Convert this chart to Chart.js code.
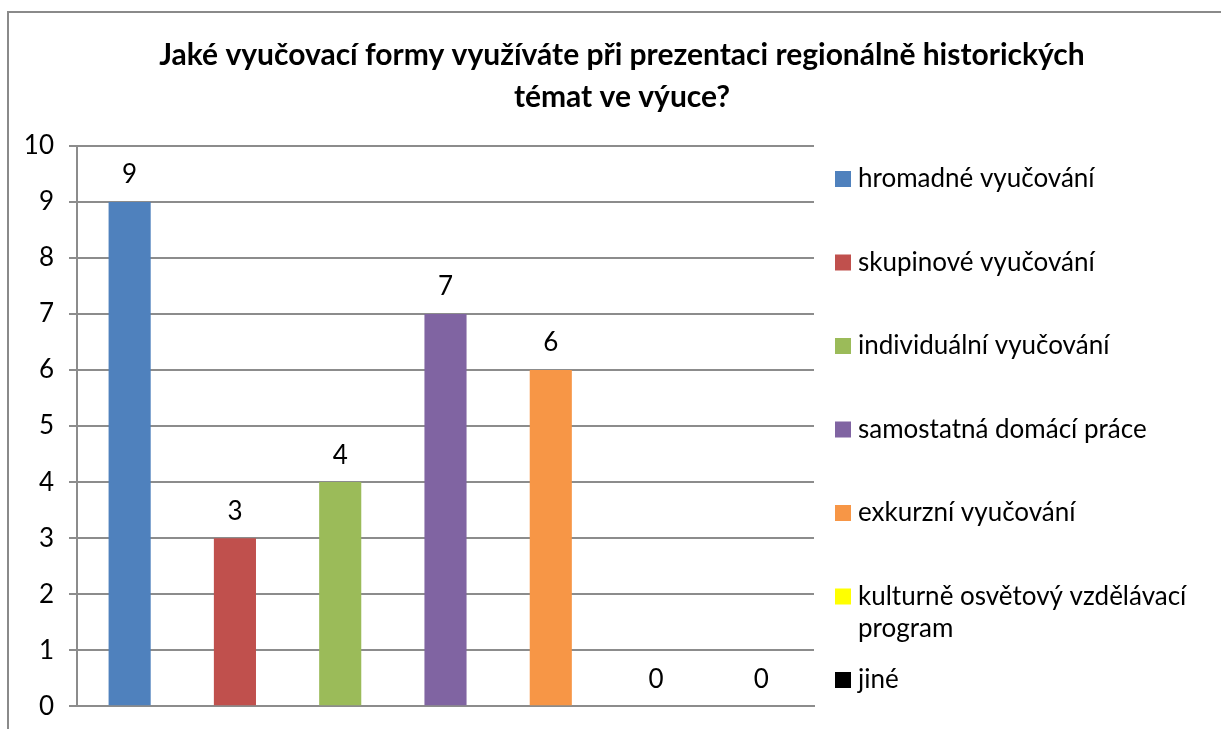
<!DOCTYPE html>
<html>
<head>
<meta charset="utf-8">
<script src="https://cdn.jsdelivr.net/npm/chart.js@4"></script>
<style>
    html, body { margin: 0; padding: 0; background: #fff; overflow: hidden; }
    .frame { position: absolute; left: 7px; top: 11px; width: 1300px; height: 800px; border: 2px solid #8a8a8a; }
    .box { position: absolute; left: 8px; top: 12px; width: 1228px; height: 717px; }
</style>
</head>
<body>
<div class="frame"></div>
<div class="box"><canvas id="formsChart" width="1228" height="717"></canvas></div>
<script>
    // Data
    const titleLines = ['Jaké vyučovací formy využíváte při prezentaci regionálně historických', 'témat ve výuce?'];
    const categories = [''];
    const seriesNames = [
        'hromadné vyučování',
        'skupinové vyučování',
        'individuální vyučování',
        'samostatná domácí práce',
        'exkurzní vyučování',
        'kulturně osvětový vzdělávací program',
        'jiné'
    ];
    const seriesValues = [9, 3, 4, 7, 6, 0, 0];
    const seriesColors = ['#4F81BD', '#C0504D', '#9BBB59', '#8064A2', '#F79646', '#FFFF00', '#000000'];
    const yMin = 0;
    const yMax = 10;
    const yStep = 1;

    const FONT = 'Lato, "Open Sans", sans-serif';
    const gridColor = '#8c8c8c';

    // value labels above each bar
    const valueLabels = {
        id: 'valueLabels',
        afterDatasetsDraw(chart) {
            const ctx = chart.ctx;
            ctx.save();
            ctx.font = '26px ' + FONT;
            ctx.fillStyle = '#000';
            ctx.textAlign = 'center';
            ctx.textBaseline = 'middle';
            chart.data.datasets.forEach((ds, i) => {
                chart.getDatasetMeta(i).data.forEach((bar, j) => {
                    ctx.fillText(String(ds.data[j]), bar.x, bar.y - 27);
                });
            });
            ctx.restore();
        }
    };

    // legend on the right, wrapping long names like the original
    function wrapText(ctx, text, maxWidth) {
        const words = text.split(' ');
        const lines = [];
        let line = '';
        words.forEach(w => {
            const test = line ? line + ' ' + w : w;
            if (line && ctx.measureText(test).width > maxWidth) {
                lines.push(line);
                line = w;
            } else {
                line = test;
            }
        });
        if (line) lines.push(line);
        return lines;
    }

    const sideLegend = {
        id: 'sideLegend',
        afterDraw(chart) {
            const { ctx, chartArea } = chart;
            const x = chartArea.right + 21;
            const step = 83.5;
            let y = chartArea.top + 33;
            ctx.save();
            ctx.font = '26px ' + FONT;
            ctx.textAlign = 'left';
            ctx.textBaseline = 'middle';
            chart.data.datasets.forEach(ds => {
                ctx.fillStyle = ds.backgroundColor;
                ctx.fillRect(x, y - 8, 16, 16);
                ctx.fillStyle = '#000';
                const lines = wrapText(ctx, ds.label, 345);
                lines.forEach((ln, k) => ctx.fillText(ln, x + 23, y + k * 32));
                y += step;
            });
            ctx.restore();
        }
    };

    const datasets = seriesNames.map((name, i) => ({
        label: name,
        data: [seriesValues[i]],
        backgroundColor: seriesColors[i],
        categoryPercentage: 1.0,
        barPercentage: 0.4
    }));

    new Chart(document.getElementById('formsChart'), {
        type: 'bar',
        data: { labels: categories, datasets: datasets },
        options: {
            responsive: false,
            animation: false,
            events: [],
            layout: { padding: 0 },
            plugins: {
                legend: { display: false },
                tooltip: { enabled: false },
                title: {
                    display: true,
                    text: titleLines,
                    color: '#000',
                    font: { family: FONT, size: 30, weight: 'bold', lineHeight: 1.4 },
                    padding: { top: 22, bottom: 28 }
                }
            },
            scales: {
                x: {
                    ticks: { display: false },
                    grid: { display: false, drawTicks: false },
                    border: { display: true, color: gridColor, width: 2 },
                    afterFit(scale) { scale.height = 0; }
                },
                y: {
                    min: yMin,
                    max: yMax,
                    ticks: { stepSize: yStep, color: '#000', padding: 15, font: { family: FONT, size: 26, lineHeight: 0.6 } },
                    grid: { color: gridColor, lineWidth: 2, tickLength: 8 },
                    border: { display: true, color: gridColor, width: 2 },
                    afterFit(scale) { scale.width = 69; }
                },
                // empty box on the right that keeps room for the legend
                legendSpace: {
                    type: 'linear',
                    position: 'right',
                    display: true,
                    ticks: { display: false },
                    grid: { display: false, drawTicks: false },
                    border: { display: false },
                    afterFit(scale) { scale.width = 422; }
                }
            }
        },
        plugins: [valueLabels, sideLegend]
    });
</script>
</body>
</html>
